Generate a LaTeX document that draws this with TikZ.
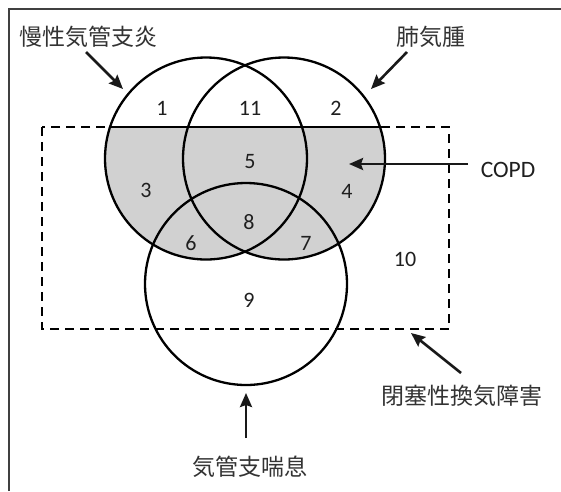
\documentclass[tikz,border=0pt]{standalone}
\usepackage{fontspec}
\setmainfont{Carlito}
\newfontfamily\jpfont{Noto Sans CJK JP}
\usetikzlibrary{arrows.meta}
\begin{document}
\begin{tikzpicture}[x=1pt,y=-1pt,
  num/.style={font=\fontsize{22}{22}\selectfont, inner sep=0pt, text=black!88},
  jlabel/.style={font=\jpfont\fontsize{23}{23}\selectfont, inner sep=0pt, text=black!80},
  setcircle/.style={circle, draw=black, line width=2.3pt, minimum size=202pt, inner sep=0pt},
  pointer/.style={line width=2.6pt, black!90, -{Stealth[length=14pt,width=12pt,inset=2pt]}},
  obstruct/.style={line width=2.4pt, dash pattern=on 9pt off 6pt}
]
\useasboundingbox (0,0) rectangle (561,491);
\fill[white] (0,0) rectangle (561,491);
\draw[line width=2pt, black!75] (9,491) -- (9,8.5) -- (561,8.5);

% shaded COPD region
\begin{scope}
  \clip (42,127) rectangle (449,329);
  \fill[black!18] (206,158.5) circle[radius=101pt] (284,158.5) circle[radius=101pt];
\end{scope}

% sets
\node[setcircle] (cb) at (206,158.5) {};
\node[setcircle] (em) at (284,158.5) {};
\node[setcircle] (as) at (246,284) {};
\draw[obstruct] (42,127) rectangle (449,329);
\coordinate (copdL) at (110,127);
\coordinate (copdR) at (380,127);
\draw[line width=2.3pt] (copdL) -- (copdR);

% region numbers
\node[num] (n1) at (162,108) {1};
\node[num] (n11) at (250,108) {11};
\node[num] (n2) at (336,108) {2};
\node[num] (n5) at (250,162) {5};
\node[num] (n3) at (146,190) {3};
\node[num] (n4) at (347,191) {4};
\node[num] (n8) at (249,222) {8};
\node[num] (n6) at (191,243) {6};
\node[num] (n7) at (306,243) {7};
\node[num] (n10) at (405,259) {10};
\node[num] (n9) at (249,300) {9};

% labels
\node[jlabel] (lcb) at (88,37) {慢性気管支炎};
\node[jlabel] (lem) at (431,37) {肺気腫};
\node[num, font=\fontsize{23.5}{23.5}\selectfont] (lcopd) at (508,170) {COPD};
\node[jlabel] (lob) at (462,396) {閉塞性換気障害};
\node[jlabel] (las) at (250,467) {気管支喘息};

% arrows
\coordinate (a1s) at (86,52);  \coordinate (a1e) at (123,89);
\coordinate (a2s) at (407,52); \coordinate (a2e) at (371,89);
\coordinate (a3s) at (468,164); \coordinate (a3e) at (349,164);
\coordinate (a4s) at (461,373); \coordinate (a4e) at (411,333);
\coordinate (a5s) at (246,438); \coordinate (a5e) at (246,393);
\draw[pointer] (a1s) -- (a1e);
\draw[pointer] (a2s) -- (a2e);
\draw[pointer] (a3s) -- (a3e);
\draw[pointer] (a4s) -- (a4e);
\draw[pointer] (a5s) -- (a5e);
\end{tikzpicture}
\end{document}
